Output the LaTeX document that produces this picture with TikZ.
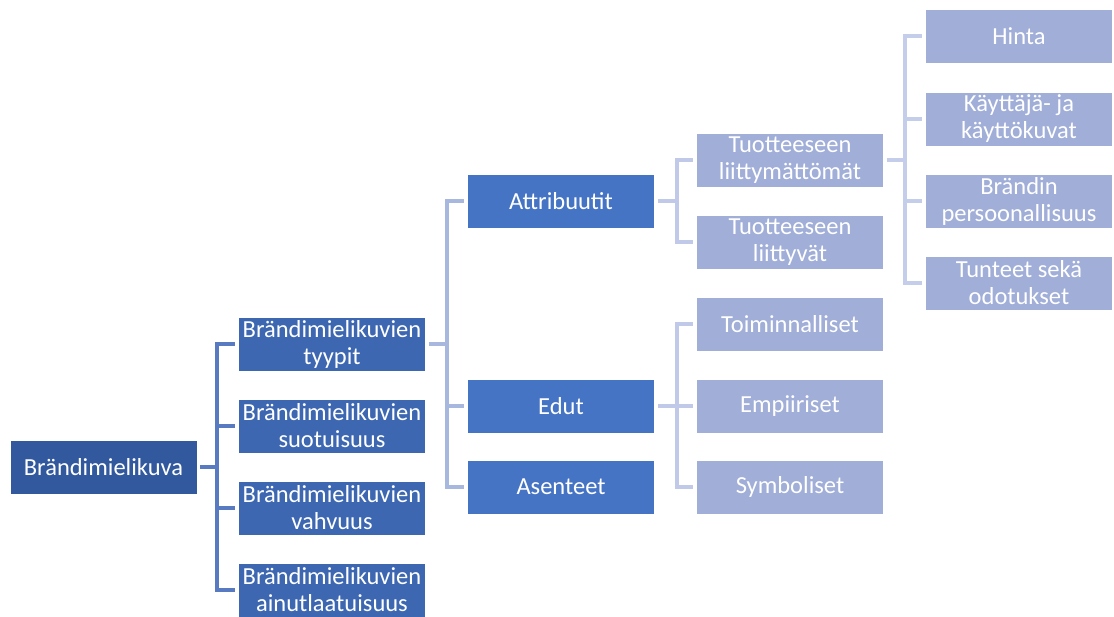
\documentclass[tikz,border=0pt]{standalone}
\usepackage{fontspec}
\setmainfont{Carlito}
\begin{document}
\begin{tikzpicture}[x=1pt,y=-1pt,
  box/.style={rectangle, inner sep=0pt, minimum width=187pt, minimum height=54pt,
    text=white, align=center, font=\fontsize{24.5}{27}\selectfont, draw=white, line width=0.6pt},
  rootbox/.style={box, fill=rootc},
  lvla/.style={box, fill=lvlac},
  lvlb/.style={box, fill=lvlbc},
  lvlc/.style={box, fill=lvlcc},
  link/.style={line width=3.4pt, line cap=butt, line join=miter},
  linka/.style={link, draw=linkac},
  linkb/.style={link, draw=linkbc},
  linkc/.style={link, draw=linkcc},
  linkd/.style={link, draw=linkdc}]
\definecolor{rootc}{RGB}{50,88,158}
\definecolor{lvlac}{RGB}{61,103,177}
\definecolor{lvlbc}{RGB}{70,116,197}
\definecolor{lvlcc}{RGB}{160,174,216}
\definecolor{linkac}{RGB}{88,122,192}
\definecolor{linkbc}{RGB}{168,183,222}
\definecolor{linkcc}{RGB}{192,202,232}
\definecolor{linkdc}{RGB}{196,205,233}

\useasboundingbox (0,0) rectangle (1114,617);

% root
\node[rootbox] (root) at (103.5,467) {Brändimielikuva};

% first level
\node[lvla] (tyy) at (332,344) {Brändimielikuvien\\tyypit};
\node[lvla] (suo) at (332,426) {Brändimielikuvien\\suotuisuus};
\node[lvla] (vah) at (332,508) {Brändimielikuvien\\vahvuus};
\node[lvla] (ain) at (332,590) {Brändimielikuvien\\ainutlaatuisuus};

% second level
\node[lvlb] (att) at (561,201) {Attribuutit};
\node[lvlb] (edu) at (561,406) {Edut};
\node[lvlb] (ase) at (561,487) {Asenteet};

% third level
\node[lvlc] (tlm) at (790,160) {Tuotteeseen\\liittymättömät};
\node[lvlc] (tlv) at (790,242) {Tuotteeseen\\liittyvät};
\node[lvlc] (toi) at (790,324) {Toiminnalliset};
\node[lvlc] (emp) at (790,406) {Empiiriset};
\node[lvlc] (sym) at (790,487) {Symboliset};

% fourth level
\node[lvlc] (hin) at (1019,36) {Hinta};
\node[lvlc] (kay) at (1019,119) {Käyttäjä- ja\\käyttökuvat};
\node[lvlc] (per) at (1019,201) {Brändin\\persoonallisuus};
\node[lvlc] (tun) at (1019,283) {Tunteet sekä\\odotukset};

% connectors
\foreach \c in {tyy,suo,vah,ain}
  \draw[linka] ([xshift=3pt]root.east) -- (217,467) |- ([xshift=-3pt]\c.west);
\foreach \c in {att,edu,ase}
  \draw[linkb] ([xshift=3pt]tyy.east) -- (447,344) |- ([xshift=-3pt]\c.west);
\foreach \c in {tlm,tlv}
  \draw[linkc] ([xshift=3pt]att.east) -- (677,201) |- ([xshift=-3pt]\c.west);
\foreach \c in {toi,emp,sym}
  \draw[linkc] ([xshift=3pt]edu.east) -- (677,406) |- ([xshift=-3pt]\c.west);
\foreach \c in {hin,kay,per,tun}
  \draw[linkd] ([xshift=3pt]tlm.east) -- (905,160) |- ([xshift=-3pt]\c.west);
\end{tikzpicture}
\end{document}
